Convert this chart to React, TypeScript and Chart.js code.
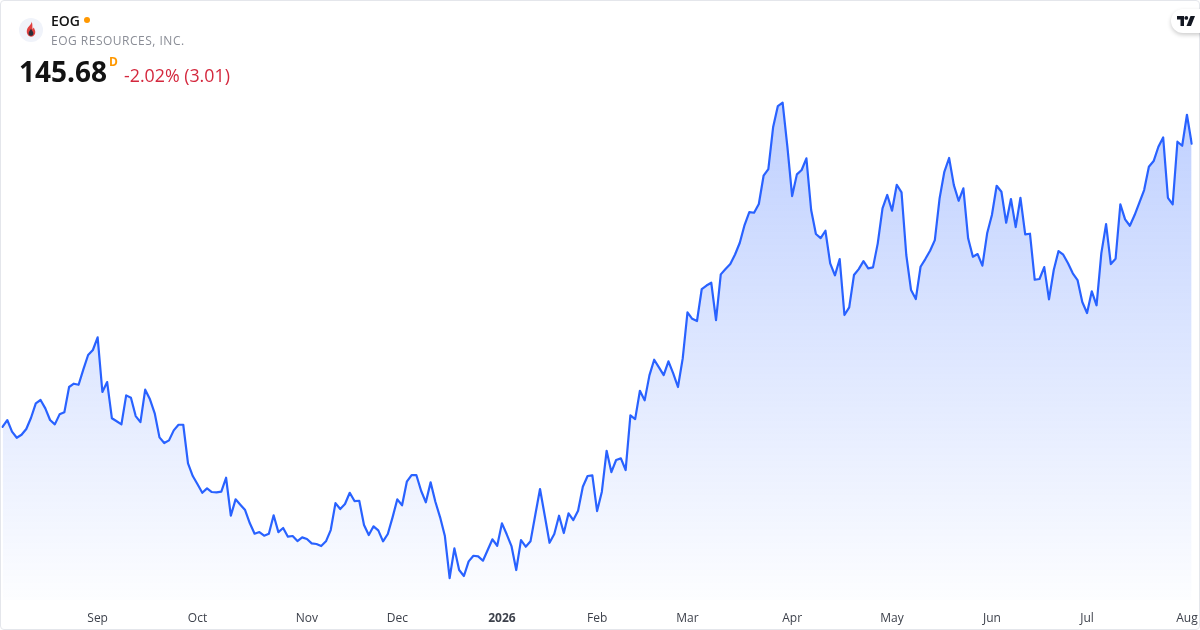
import React, { useEffect, useRef } from "react";
import { Chart, registerables } from "chart.js";

Chart.register(...registerables);

const prices: number[] = [
  116.30,117.00,115.79,115.16,115.47,116.07,117.24,118.73,119.08,118.21,
  117.00,116.55,117.59,117.80,120.43,120.77,120.66,122.26,123.75,124.27,
  125.58,119.91,120.94,117.18,116.87,116.55,119.56,119.31,117.41,116.79,
  120.15,119.15,117.70,115.20,114.61,114.89,115.93,116.51,116.51,112.51,
  111.19,110.33,109.45,109.91,109.53,109.50,109.56,111.01,107.07,108.77,
  108.21,107.66,106.28,105.20,105.37,104.99,105.20,107.11,105.37,105.79,
  104.89,104.96,104.44,104.82,104.65,104.20,104.13,103.92,104.41,105.58,
  108.38,107.76,108.28,109.45,108.59,108.62,106.10,105.06,105.97,105.55,
  104.41,105.17,106.90,108.77,108.15,110.60,111.29,111.29,109.66,108.46,
  110.53,108.52,106.90,104.96,100.60,103.68,101.43,100.81,102.33,102.91,
  102.85,102.40,103.51,104.62,103.95,106.28,105.14,103.92,101.43,104.54,
  103.85,104.41,107.14,109.84,107.07,104.26,105.17,107.07,105.27,107.32,
  106.62,107.59,110.08,111.19,111.26,107.55,109.56,113.81,111.60,112.85,
  113.02,111.81,117.49,117.10,120.04,119.04,121.64,123.26,122.47,121.67,
  123.09,121.85,120.43,123.40,128.18,127.51,127.28,130.60,130.96,131.25,
  127.38,132.12,132.67,133.19,134.18,135.40,137.24,138.59,138.52,139.42,
  142.36,143.05,147.38,149.59,149.94,145.37,140.25,142.50,142.95,144.16,
  138.80,136.31,135.89,136.65,133.27,132.02,133.71,127.90,128.70,132.05,
  132.67,133.50,132.75,132.85,135.34,138.97,140.36,138.73,141.42,140.64,
  134.13,130.49,129.56,132.91,133.71,134.57,135.68,140.01,142.77,144.20,
  141.39,139.76,141.05,135.86,133.95,134.23,133.02,136.38,138.28,141.32,
  140.70,137.48,139.94,137.03,140.07,136.28,136.34,131.56,131.64,132.88,
  129.53,132.57,134.54,134.16,133.27,132.23,131.53,129.25,128.11,130.36,
  128.91,134.30,137.34,133.19,133.74,139.39,137.83,137.17,138.28,139.56,
  140.87,143.29,143.88,145.37,146.34,140.07,139.39,145.89,145.47,148.69,
  145.68,
];
const tickNames: string[] = ["Sep","Oct","Nov","Dec","2026","Feb","Mar","Apr","May","Jun","Jul","Aug"];
const tickSlots: number[] = [20,41,64,83,105,125,144,166,187,208,228,249];
const boldTicks: string[] = ["2026"];

const FONT = '"Open Sans", "Noto Sans", sans-serif';

export default function App() {
  const ref = useRef<HTMLCanvasElement>(null);
  useEffect(() => {
    document.body.style.margin = "0";
    const labels = prices.map((_, i) => {
      const k = tickSlots.indexOf(i);
      return k >= 0 ? tickNames[k] : "";
    });
    const chart = new Chart(ref.current!, {
      type: "line",
      data: {
        labels,
        datasets: [
          {
            data: prices,
            borderColor: "#2962FF",
            borderWidth: 2.2,
            borderJoinStyle: "round",
            borderCapStyle: "round",
            pointRadius: 0,
            tension: 0,
            fill: "start",
            backgroundColor: (ctx: any) => {
              const a = ctx.chart.chartArea;
              if (!a) return "rgba(41,98,255,0.2)";
              const g = ctx.chart.ctx.createLinearGradient(0, 100, 0, a.bottom);
              g.addColorStop(0, "rgba(41,98,255,0.3)");
              g.addColorStop(1, "rgba(41,98,255,0.01)");
              return g;
            },
          },
        ],
      },
      options: {
        responsive: false,
        animation: false,
        layout: { padding: { left: 2.5, right: 8.3, top: 0, bottom: 0 } },
        plugins: { legend: { display: false }, tooltip: { enabled: false } },
        scales: {
          x: {
            type: "category",
            offset: false,
            grid: { display: false, drawTicks: false },
            border: { display: false },
            afterFit: (s: any) => { s.height = 30; s.paddingLeft = 0; s.paddingRight = 0; },
            ticks: {
              autoSkip: false,
              maxRotation: 0,
              minRotation: 0,
              padding: 11,
              color: "#3d414b",
              font: (ctx: any) => ({
                family: FONT,
                size: 12,
                weight: boldTicks.includes(ctx.tick?.label) ? "bold" : "normal",
              }),
            },
          },
          y: { display: false, min: 98.32, max: 160.6 },
        },
      },
    } as any);
    return () => chart.destroy();
  }, []);

  const abs = (left: number, top: number, extra: React.CSSProperties): React.CSSProperties => ({
    position: "absolute",
    left,
    top,
    whiteSpace: "nowrap",
    fontFamily: FONT,
    ...extra,
  });

  return (
    <div style={{ position: "relative", width: 1200, height: 630, overflow: "hidden", background: "#fff" }}>
      <canvas ref={ref} width={1200} height={630} style={{ position: "absolute", left: 0, top: 0, display: "block" }} />
      <div style={{ position: "absolute", inset: 0, border: "1px solid #e4e6eb", borderRadius: 4, boxSizing: "border-box", pointerEvents: "none" }} />
      <svg style={{ position: "absolute", left: 19, top: 18 }} width={24} height={24} viewBox="0 0 24 24">
        <circle cx="12" cy="12" r="12" fill="#f0f3fa" />
        <path d="M12.5 3.5c.6 3-3.8 4.9-4.6 8.6-.7 3.4 1.3 6.6 4.2 6.6 3 0 4.7-2.9 4-5.9-.3-1.4-1-2.3-1.3-3.4-.8 1-1 1.6-1.2 2.2-.5-2.7.3-5.5-1.1-8.1z" fill="#e04040" />
        <path d="M12 10.8c-1 2-2.4 2.9-2.4 4.6 0 1.4 1 2.4 2.4 2.4s2.4-1 2.4-2.4c0-1.7-1.4-2.6-2.4-4.6z" fill="#2a2e39" />
      </svg>
      <div style={abs(51, 12, { fontSize: 14, lineHeight: "18px", fontWeight: 600, color: "#131313" })}>EOG</div>
      <div style={{ position: "absolute", left: 84, top: 17, width: 6, height: 6, borderRadius: 3, background: "#ff9800" }} />
      <div style={abs(51, 32, { fontSize: 12, lineHeight: "18px", color: "#8a8d96", letterSpacing: 0.5 })}>EOG RESOURCES, INC.</div>
      <div style={abs(19, 52, { fontSize: 28, lineHeight: "38px", fontWeight: 700, color: "#131313" })}>145.68</div>
      <div style={abs(109, 55, { fontSize: 12, lineHeight: "14px", fontWeight: 700, color: "#ff9800" })}>D</div>
      <div style={abs(124, 63, { fontSize: 17.8, lineHeight: "24px", color: "#d4283e" })}>-2.02% (3.01)</div>
      <div style={{ position: "absolute", left: 1171, top: 9, width: 40, height: 24, borderRadius: 12, background: "#fff", boxShadow: "0 2px 4px rgba(0,0,0,0.2)" }} />
      <svg style={{ position: "absolute", left: 1177, top: 16 }} width={18} height={10} viewBox="0 0 18 10">
        <path d="M0 0h7v10H3.5V3.5H0z" fill="#131722" />
        <circle cx="9.3" cy="1.9" r="1.9" fill="#131722" />
        <path d="M13.5 0H18l-4 10H9.5z" fill="#131722" />
      </svg>
    </div>
  );
}
